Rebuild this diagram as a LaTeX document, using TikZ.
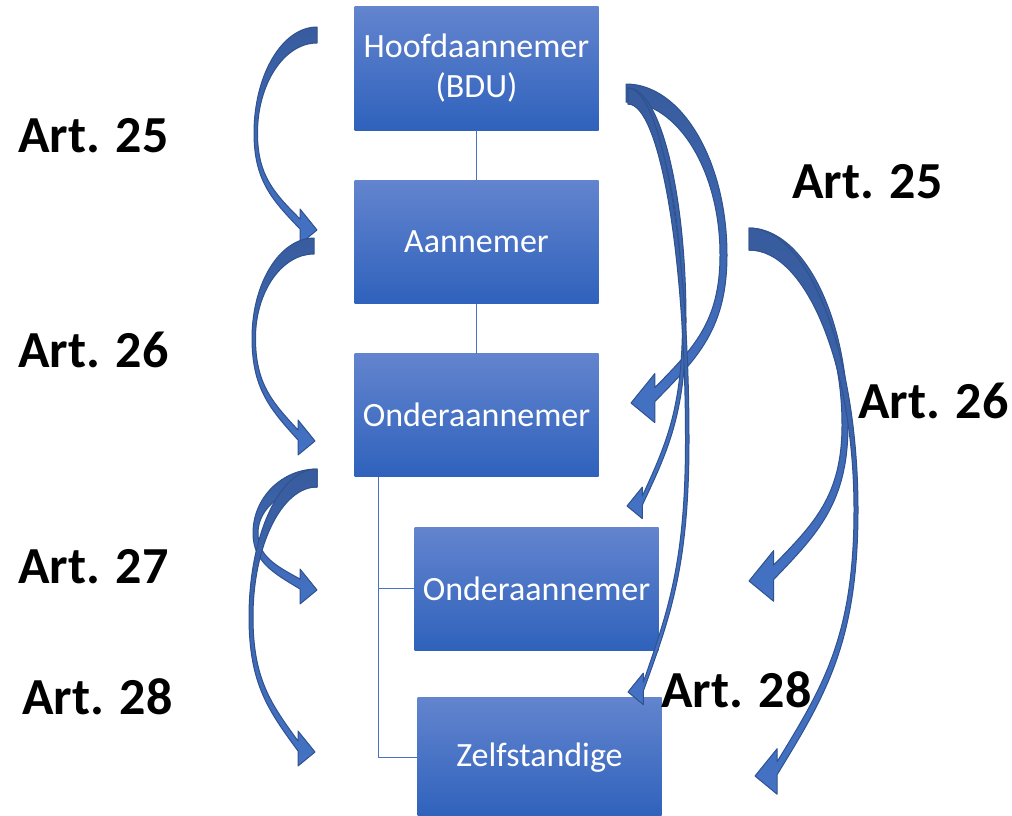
\documentclass[tikz,border=0pt]{standalone}
\usepackage{fontspec}
\setmainfont{Carlito}
\usetikzlibrary{positioning}
\definecolor{boxtop}{RGB}{99,132,206}
\definecolor{boxbot}{RGB}{47,98,188}
\definecolor{linkblue}{RGB}{72,114,196}
\definecolor{curltop}{RGB}{56,92,158}
\definecolor{curlbot}{RGB}{68,114,196}
\definecolor{curlline}{RGB}{47,82,143}
\tikzset{
box/.style={top color=boxtop, bottom color=boxbot, text=white, minimum width=244pt, minimum height=123pt, inner sep=0pt, align=center, font=\fontsize{34}{40}\selectfont}, % the blue boxes
art/.style={anchor=base west, inner sep=0pt, font=\fontsize{52}{60}\selectfont\bfseries}, % the article labels
link/.style={draw=linkblue, line width=1.5pt}, % thin lines between the boxes
curl/.style={top color=curltop, bottom color=curlbot, draw=curlline, line width=1pt, line join=round}, % curved block arrows
}
% curved block arrow: tail corner (#1,#2), tail thickness #3, bulge (#4,#5), tip (#6,#7), head size #8, middle thickness #9
\newcommand{\curl}[9]{%
  \pgfmathsetmacro\sg{sign(#4-#1)}
  \pgfmathsetmacro\hx{#6+\sg*17*#8}
  \pgfmathsetmacro\oy{#7-1*#8}
  \pgfmathsetmacro\iy{#7-11*#8}
  \pgfmathsetmacro\bi{#4-\sg*#9}
  \shadedraw[curl] (#1,#2)
    .. controls ({#1+0.55*(#4-#1)},#2) and (#4,{#5-0.55*(#5-#2)}) .. (#4,#5)
    .. controls (#4,{#5+0.5*(\oy-#5)}) and ({\hx-0.6*(\hx-#4)},{\oy-0.3*(\oy-#5)}) .. (\hx,\oy)
    -- (\hx,{#7+14*#8}) -- (#6,#7) -- (\hx,{#7-21*#8}) -- (\hx,\iy)
    .. controls ({\hx-0.6*(\hx-\bi)},{\iy-0.3*(\iy-#5)}) and (\bi,{#5+0.5*(\iy-#5)}) .. (\bi,#5)
    .. controls (\bi,{#5-0.55*(#5-#2-#3)}) and ({#1+0.55*(\bi-#1)},{#2+#3}) .. (#1,{#2+#3}) -- cycle;
}
\begin{document}
\begin{tikzpicture}[x=1pt, y=-1pt]
  \useasboundingbox (0,0) rectangle (1012,816);

  % Boxes
  \node[box] (hoofd) at (476.5,68.5) {Hoofdaannemer\\(BDU)};
  \node[box, below=50pt of hoofd] (aann) {Aannemer};
  \node[box, below=50pt of aann] (onder1) {Onderaannemer};
  \node[box, anchor=north west] (onder2) at ([xshift=60pt,yshift=-50pt]onder1.south west) {Onderaannemer};
  \node[box, anchor=north west, minimum height=120pt] (zelf) at ([xshift=3pt,yshift=-47pt]onder2.south west) {Zelfstandige};

  % Lines
  \draw[link] (hoofd) -- (aann);
  \draw[link] (aann) -- (onder1);
  \draw[link] ([xshift=24pt]onder1.south west) |- (onder2.west);
  \draw[link] ([xshift=24pt]onder1.south west) |- (zelf.west);

  % Left arrows
  \curl{317}{27}{16}{254}{133}{317}{230}{1}{3.5}
  \curl{314}{238}{16}{252}{338}{315}{441}{1}{3.5}
  \curl{317}{469}{18}{253}{533}{317}{590}{1}{5}
  \curl{317}{469}{18}{249}{617}{315}{752}{1}{4}

  % Right arrows
  \curl{626}{84}{18}{727}{255}{631}{403}{1.4}{7}
  \curl{628}{88}{16}{686}{320}{627}{506}{0.9}{3.5}
  \curl{628}{88}{16}{689}{440}{628}{692}{0.9}{3.5}
  \curl{749}{228}{22}{848}{425}{749}{581}{1.45}{6}
  \curl{749}{228}{22}{858}{510}{755}{776}{1.3}{4}

  % Labels
  \node[art] (l25) at (18,152) {Art. 25};
  \node[art] (l26) at (18,367) {Art. 26};
  \node[art] (l27) at (18,583) {Art. 27};
  \node[art] (l28) at (22,714) {Art. 28};
  \node[art] (r25) at (792,198) {Art. 25};
  \node[art] (r26) at (858,418) {Art. 26};
  \node[art] (r28) at (661,707) {Art. 28};
\end{tikzpicture}
\end{document}
